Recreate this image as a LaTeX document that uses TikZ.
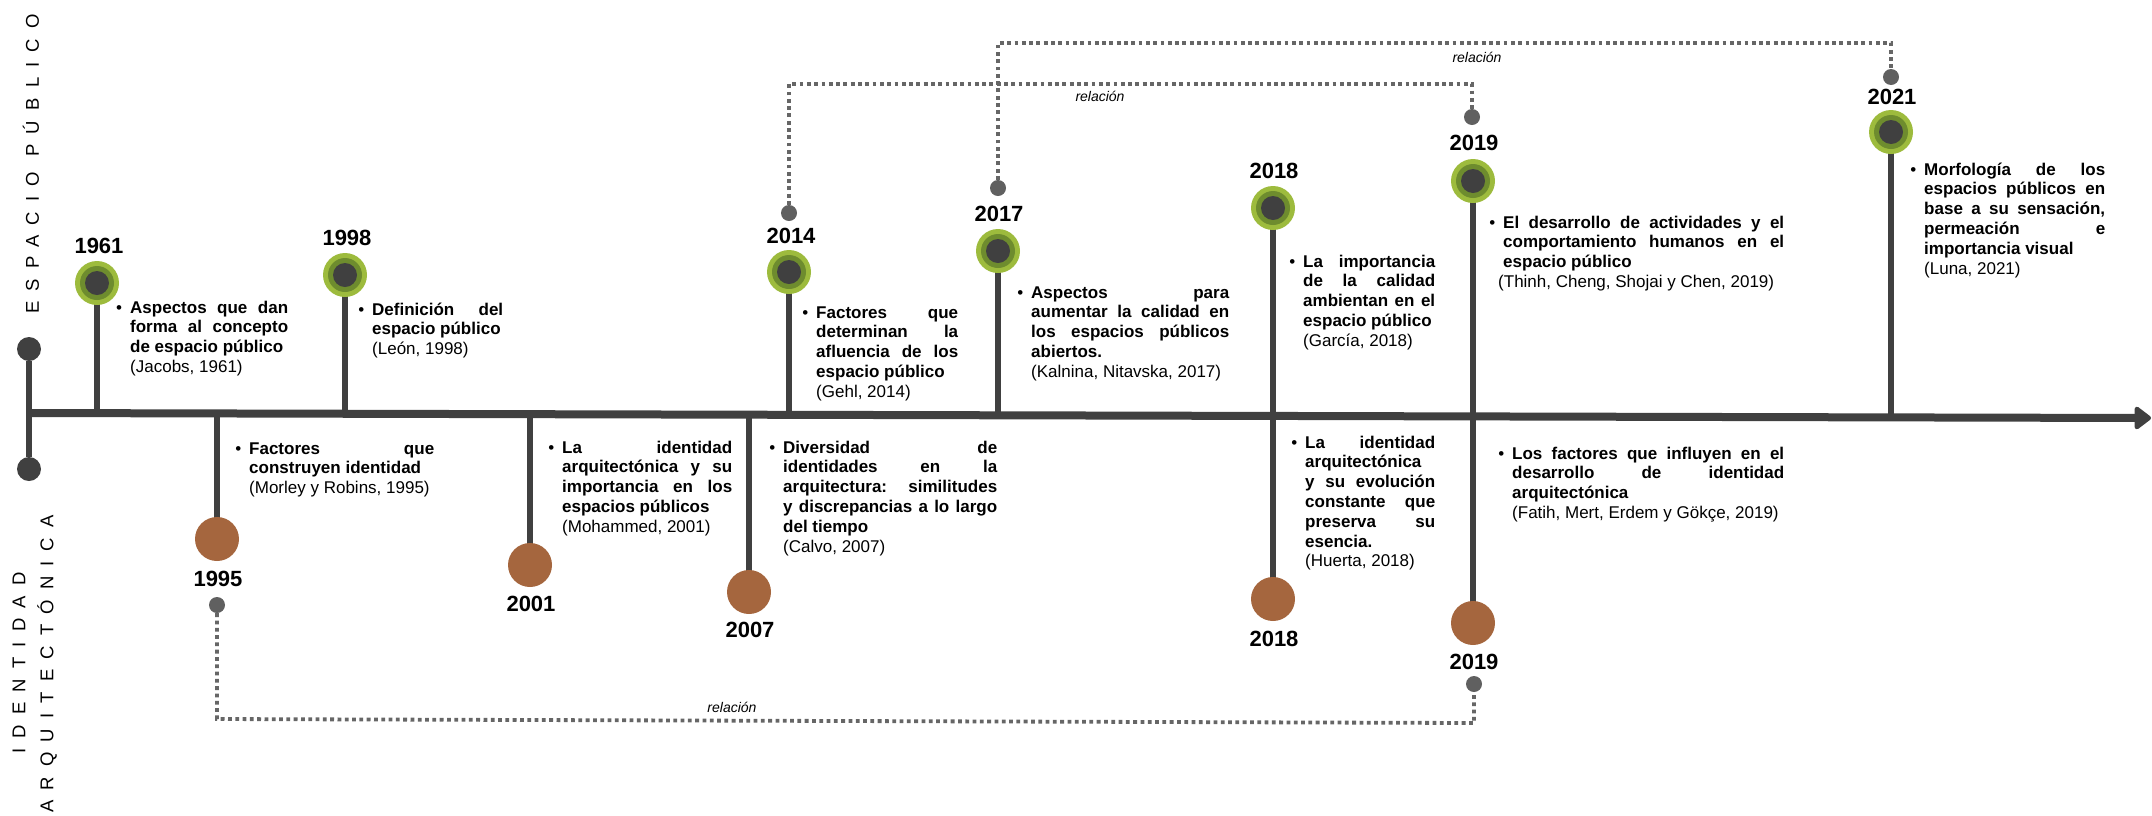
\documentclass[tikz,border=0pt]{standalone}
\usepackage{fontspec}
\setmainfont{Liberation Sans}
\usetikzlibrary{arrows.meta}
\definecolor{dk}{HTML}{404040}
\definecolor{gOut}{HTML}{9DBB3D}
\definecolor{gMid}{HTML}{6E8C2E}
\definecolor{brn}{HTML}{A5663E}
\definecolor{dotc}{HTML}{606060}
\definecolor{relc}{HTML}{666666}
\newfontfamily\sidefont[LetterSpace=55]{Liberation Sans}
\newcommand{\bul}{\hyphenpenalty10000\exhyphenpenalty10000\tolerance10000\strut\llap{•\hspace{8pt}}}
\begin{document}
\begin{tikzpicture}[x=1pt,y=-1pt,
  year/.style={font=\fontsize{22}{24}\selectfont\bfseries, inner sep=0},
  desc/.style={anchor=north west, inner sep=0, align=justify, font=\fontsize{17}{19.8}\selectfont},
  stem/.style={dk, line width=6pt},
  gcirc/.style={circle, fill=gOut, minimum size=44pt, inner sep=0,
    path picture={\fill[gMid] (path picture bounding box.center) circle (17pt);
                  \fill[dk] (path picture bounding box.center) circle (12pt);}},
  bcirc/.style={circle, fill=brn, minimum size=44pt, inner sep=0},
  enddot/.style={circle, fill=dk, minimum size=24pt, inner sep=0},
  reldot/.style={circle, fill=dotc, minimum size=16pt, inner sep=0},
  rel/.style={relc, line width=3.8pt, dash pattern=on 3.8pt off 3.5pt},
  rellab/.style={font=\fontsize{14}{16}\selectfont\itshape, inner sep=0},
  side/.style={font=\fontsize{18.5}{20}\selectfont\sidefont, rotate=90, inner sep=0, text=black}
]
\useasboundingbox (0,0) rectangle (2152,815);

% side labels
\node[side] (lblEP) at (31,164) {ESPACIO PÚBLICO};
\node[side] (lblID) at (19,663) {IDENTIDAD};
\node[side] (lblAQ) at (47,664) {ARQUITECTÓNICA};

% axis coordinates
\coordinate (axL) at (29,413);
\coordinate (axR) at (2151,418);

% left bar
\node[enddot] (topdot) at (29,349) {};
\node[enddot] (botdot) at (29,469) {};
\draw[stem] (topdot) -- (botdot);

% node positions
\coordinate (p1961) at (97,283);
\coordinate (p1998) at (345,275);
\coordinate (p2014) at (789,272);
\coordinate (p2017) at (998,251);
\coordinate (p2018a) at (1273,208);
\coordinate (p2019a) at (1473,181);
\coordinate (p2021) at (1891,132);
\coordinate (p1995) at (217,539);
\coordinate (p2001) at (530,565);
\coordinate (p2007) at (749,592);
\coordinate (p2018b) at (1273,599);
\coordinate (p2019b) at (1473,623);

% stems
\foreach \p/\yy in {p1961/413,p1998/413.6,p2014/414.7,p2017/415.2,p2018a/415.8,p2019a/416.3,p2021/417.3,
                  p1995/414,p2001/414.2,p2007/414.7,p2018b/415.8,p2019b/416.3}{
  \draw[stem] (\p) -- (\p |- 0,\yy);
}

% axis
\draw[dk, line width=8pt, -{Triangle[length=18pt,width=26pt,round]}] (axL) -- (axR);

% circles
\node[gcirc] (c1961) at (p1961) {};
\node[gcirc] (c1998) at (p1998) {};
\node[gcirc] (c2014) at (p2014) {};
\node[gcirc] (c2017) at (p2017) {};
\node[gcirc] (c2018a) at (p2018a) {};
\node[gcirc] (c2019a) at (p2019a) {};
\node[gcirc] (c2021) at (p2021) {};
\node[bcirc] (c1995) at (p1995) {};
\node[bcirc] (c2001) at (p2001) {};
\node[bcirc] (c2007) at (p2007) {};
\node[bcirc] (c2018b) at (p2018b) {};
\node[bcirc] (c2019b) at (p2019b) {};

% years
\node[year] (y1961) at (99,246) {1961};
\node[year] (y1998) at (347,238) {1998};
\node[year] (y2014) at (791,236) {2014};
\node[year] (y2017) at (999,214) {2017};
\node[year] (y2018a) at (1274,171) {2018};
\node[year] (y2019a) at (1474,143) {2019};
\node[year] (y2021) at (1892,97) {2021};
\node[year] (y1995) at (218,579) {1995};
\node[year] (y2001) at (531,604) {2001};
\node[year] (y2007) at (750,630) {2007};
\node[year] (y2018b) at (1274,639) {2018};
\node[year] (y2019b) at (1474,662) {2019};

% descriptions
\node[desc, text width=158pt] (t1961) at (130,299) {\bul\textbf{Aspectos que dan\linebreak forma al concepto\linebreak de espacio público}\\(Jacobs, 1961)};
\node[desc, text width=131pt] (t1998) at (372,301) {\bul\textbf{Definición del\linebreak espacio público}\\(León, 1998)};
\node[desc, text width=185pt] (t1995) at (249,440) {\bul\textbf{Factores que\linebreak construyen identidad}\\(Morley y Robins, 1995)};
\node[desc, text width=170pt] (t2001) at (562,439) {\bul\textbf{La identidad\linebreak arquitectónica y su\linebreak importancia en los\linebreak espacios públicos}\\(Mohammed, 2001)};
\node[desc, text width=214pt] (t2007) at (783,439) {\bul\textbf{Diversidad de\linebreak identidades en la\linebreak arquitectura: similitudes\linebreak y discrepancias a lo largo\linebreak del tiempo}\\(Calvo, 2007)};
\node[desc, text width=142pt] (t2014) at (816,304) {\bul\textbf{Factores que\linebreak determinan la\linebreak afluencia de los\linebreak espacio público}\\(Gehl, 2014)};
\node[desc, text width=198pt] (t2017) at (1031,284) {\bul\textbf{Aspectos para\linebreak aumentar la calidad en\linebreak los espacios públicos\linebreak abiertos.}\\(Kalnina, Nitavska, 2017)};
\node[desc, text width=132pt] (t2018a) at (1303,253) {\bul\textbf{La importancia\linebreak de la calidad\linebreak ambientan en el\linebreak espacio público}\\(García, 2018)};
\node[desc, text width=281pt] (t2019a) at (1503,214) {\bul\textbf{El desarrollo de actividades y el\linebreak comportamiento humanos en el\linebreak espacio público}\\\hspace*{-5pt}(Thinh, Cheng, Shojai y Chen, 2019)};
\node[desc, text width=130pt] (t2018b) at (1305,434) {\bul\textbf{La identidad\linebreak arquitectónica}\\\textbf{y su evolución\linebreak constante que\linebreak preserva su\linebreak esencia.}\\(Huerta, 2018)};
\node[desc, text width=272pt] (t2019b) at (1512,445) {\bul\textbf{Los factores que influyen en el\linebreak desarrollo de identidad\linebreak arquitectónica}\\(Fatih, Mert, Erdem y Gökçe, 2019)};
\node[desc, text width=181pt] (t2021) at (1924,161) {\bul\textbf{Morfología de los\linebreak espacios públicos en\linebreak base a su sensación,\linebreak permeación e\linebreak importancia visual}\\(Luna, 2021)};

% relation dots
\node[reldot] (r1995) at (217,605) {};
\node[reldot] (r2019b) at (1474,684) {};
\node[reldot] (r2014) at (789,213) {};
\node[reldot] (r2019a) at (1472,117) {};
\node[reldot] (r2017) at (998,188) {};
\node[reldot] (r2021) at (1891,77) {};

% relation corners
\coordinate (k1) at (217,719);
\coordinate (k2) at (1474,723);
\coordinate (k3) at (789,84);
\coordinate (k4) at (1472,84);
\coordinate (k5) at (998,43);
\coordinate (k6) at (1891,43);

\draw[rel] (r1995) -- (k1) -- (k2) -- (r2019b);
\draw[rel] (r2014) -- (k3) -- (k4) -- (r2019a);
\draw[rel] (r2017) -- (k5) -- (k6) -- (r2021);

\node[rellab] (l1) at (732,707) {relación};
\node[rellab] (l2) at (1100,96) {relación};
\node[rellab] (l3) at (1477,57) {relación};
\end{tikzpicture}
\end{document}
